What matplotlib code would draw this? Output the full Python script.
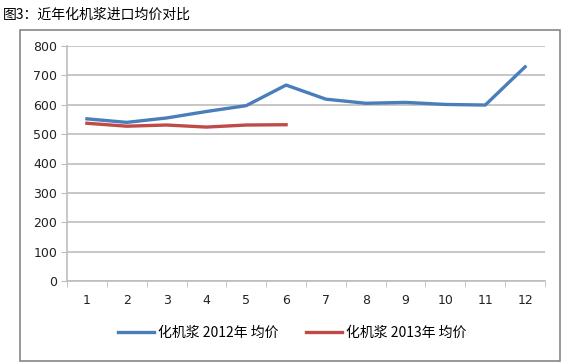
import matplotlib
matplotlib.use('Agg')
import matplotlib.pyplot as plt
from matplotlib.patches import Rectangle

plt.rcParams['font.family'] = ['Noto Sans CJK SC', 'DejaVu Sans']

# ---------------------------------------------------------------------------
# data
# ---------------------------------------------------------------------------
months = list(range(1, 13))
price_2012 = [552, 540, 555, 577, 597, 667, 619, 605, 608, 601, 599, 729]
price_2013 = [537, 527, 531, 524, 531, 532]
labels = ['化机浆 2012年 均价', '化机浆 2013年 均价']
title = '图3：近年化机浆进口均价对比'

BLUE = '#4A7EBB'
RED = '#BE4B48'
GRID = '#bdbdbd'

W, H = 579, 362
fig = plt.figure(figsize=(W / 100, H / 100), dpi=100)

# chart border box
fig.patches.append(Rectangle((20 / W, 1 / H), 540 / W, (H - 30 - 1) / H,
                             transform=fig.transFigure, fill=False,
                             edgecolor='#868686', lw=1.2))

fig.text(3 / W, 1 - 15 / H, title, fontsize=10, va='center', ha='left')

ax = fig.add_axes([67 / W, (H - 281) / H, (545 - 67) / W, (281 - 46) / H])
ax.plot(months, price_2012, color=BLUE, lw=2.4, label=labels[0],
        solid_joinstyle='round')
ax.plot(months[:len(price_2013)], price_2013, color=RED, lw=2.4,
        label=labels[1], solid_joinstyle='round')

ax.set_xlim(0.5, 12.5)
ax.set_ylim(0, 800)
ax.set_yticks(range(0, 801, 100))
ax.set_xticks(months)
ax.set_xticks([m + 0.5 for m in range(0, 13)], minor=True)
ax.tick_params(axis='x', which='major', length=0, pad=9, labelsize=9,
               labelcolor='#222222')
ax.tick_params(axis='x', which='minor', length=4, color=GRID, direction='out')
ax.tick_params(axis='y', length=4, color=GRID, labelsize=9,
               labelcolor='#222222', pad=3)
for lab in ax.get_xticklabels() + ax.get_yticklabels():
    lab.set_family(['DejaVu Sans'])

ax.grid(axis='y', color=GRID, lw=1.2)
ax.set_axisbelow(True)
for side in ['top', 'right']:
    ax.spines[side].set_visible(False)
ax.spines['left'].set_color(GRID)
ax.spines['bottom'].set_color(GRID)
ax.spines['left'].set_linewidth(1.2)
ax.spines['bottom'].set_linewidth(1.2)

fig.legend(loc='center', bbox_to_anchor=(292 / W, 1 - 333 / H), ncol=2,
           frameon=False, fontsize=10, handlelength=2.6, handletextpad=0.25,
           columnspacing=2.0)

fig.savefig('out.png', dpi=100)
